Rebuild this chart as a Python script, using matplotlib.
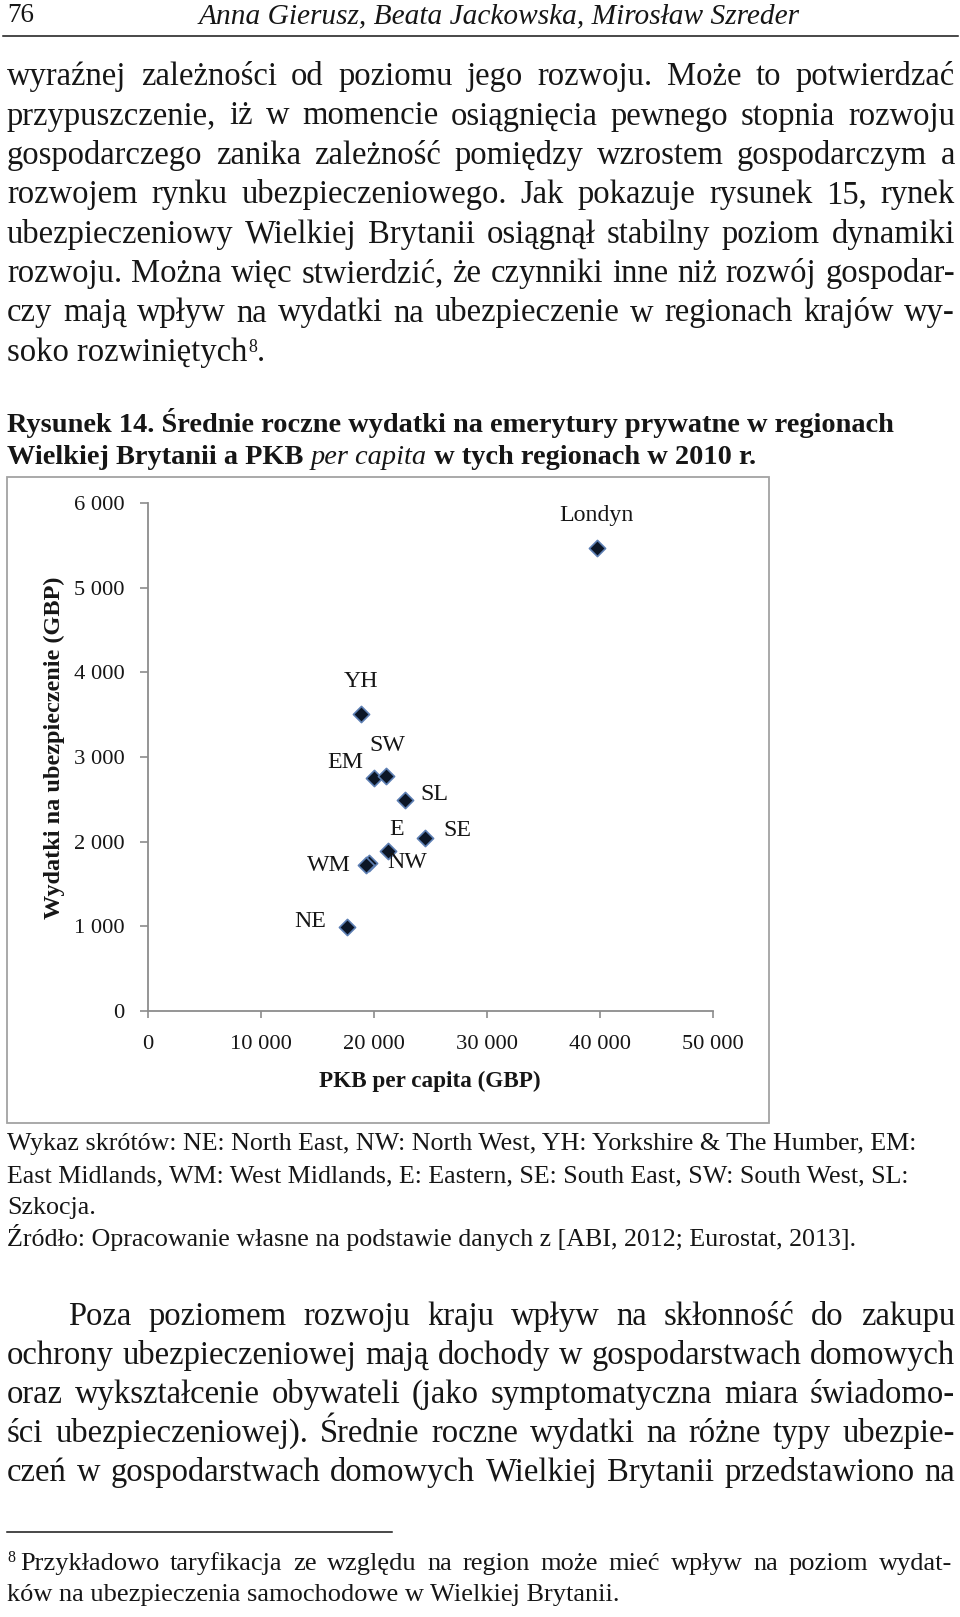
import matplotlib
matplotlib.use('Agg')
import matplotlib.pyplot as plt
from matplotlib.patches import Rectangle
from matplotlib.ticker import FuncFormatter

plt.rcParams['font.family'] = ['Liberation Serif', 'DejaVu Serif']

# data
regions = ['Londyn', 'YH', 'EM', 'SW', 'SL', 'SE', 'E', 'NW', 'WM', 'NE']
gdp = [39700, 18870, 19970, 21030, 22710, 24470, 21210, 19580, 19270, 17590]
spend = [5470, 3512, 2756, 2778, 2490, 2040, 1893, 1751, 1719, 990]
# label offsets in pixels (dx, dy up)
label_off = [(0, 32), (0, 32), (-28, 15), (2, 30), (30, 6), (33, 8), (9, 21), (38, 0), (-37, 0), (-37, 6)]

x_ticks = [0, 10000, 20000, 30000, 40000, 50000]
y_ticks = [0, 1000, 2000, 3000, 4000, 5000, 6000]

para1 = [
    "wyraźnej zależności od poziomu jego rozwoju. Może to potwierdzać",
    "przypuszczenie, iż w momencie osiągnięcia pewnego stopnia rozwoju",
    "gospodarczego zanika zależność pomiędzy wzrostem gospodarczym a",
    "rozwojem rynku ubezpieczeniowego. Jak pokazuje rysunek 15, rynek",
    "ubezpieczeniowy Wielkiej Brytanii osiągnął stabilny poziom dynamiki",
    "rozwoju. Można więc stwierdzić, że czynniki inne niż rozwój gospodar-",
    "czy mają wpływ na wydatki na ubezpieczenie w regionach krajów wy-",
]
para1_last = "soko rozwiniętych"
para1_y = [85, 124.5, 164, 203, 242.5, 282, 321.5, 361]

caption1 = "Rysunek 14. Średnie roczne wydatki na emerytury prywatne w regionach"
caption2 = ["Wielkiej Brytanii a PKB ", "per capita", " w tych regionach w 2010 r."]

notes = [
    "Wykaz skrótów: NE: North East, NW: North West, YH: Yorkshire & The Humber, EM:",
    "East Midlands, WM: West Midlands, E: Eastern, SE: South East, SW: South West, SL:",
    "Szkocja.",
    "Źródło: Opracowanie własne na podstawie danych z [ABI, 2012; Eurostat, 2013].",
]
notes_y = [1150, 1182, 1214, 1246]

para2 = [
    "Poza poziomem rozwoju kraju wpływ na skłonność do zakupu",
    "ochrony ubezpieczeniowej mają dochody w gospodarstwach domowych",
    "oraz wykształcenie obywateli (jako symptomatyczna miara świadomo-",
    "ści ubezpieczeniowej). Średnie roczne wydatki na różne typy ubezpie-",
    "czeń w gospodarstwach domowych Wielkiej Brytanii przedstawiono na",
]
para2_y = [1325, 1364, 1403, 1442, 1481]

foot1 = "Przykładowo taryfikacja ze względu na region może mieć wpływ na poziom wydat-"
foot2 = "ków na ubezpieczenia samochodowe w Wielkiej Brytanii."

W, H = 960, 1617
INK = '#161616'

fig = plt.figure(figsize=(W / 100, H / 100), dpi=100)
page = fig.add_axes([0, 0, 1, 1])
page.set_xlim(0, W)
page.set_ylim(H, 0)
page.axis('off')
page.patch.set_alpha(0)
renderer = fig.canvas.get_renderer()


def width_of(s, size, **kw):
    t = page.text(0, 0, s, fontsize=size, **kw)
    w = t.get_window_extent(renderer=renderer).width
    t.remove()
    return w


def fit(s, target, **kw):
    return 10 * target / width_of(s, 10, **kw)


def put(x, y, s, size, **kw):
    t = page.text(x, y, s, fontsize=size, va='baseline', ha='left', color=INK, **kw)
    return x + t.get_window_extent(renderer=renderer).width


def justify(line, y, x0, x1, size, **kw):
    words = line.split(' ')
    ws = [width_of(w, size, **kw) for w in words]
    gap = (x1 - x0 - sum(ws)) / (len(words) - 1)
    x = x0
    for w, wd in zip(words, ws):
        page.text(x, y, w, fontsize=size, va='baseline', ha='left', color=INK, **kw)
        x += wd + gap


L, R = 7, 955

# header
put(7, 22, "76", 19.5)
hs = fit("Anna Gierusz, Beata Jackowska, Mirosław Szreder", 601, style='italic')
put(199, 23, "Anna Gierusz, Beata Jackowska, Mirosław Szreder", hs, style='italic')
page.plot([3, 958], [36, 36], color=INK, lw=1.1)

# body font size: tightest justified line gets normal spacing
body = min([fit(s, R - L) for s in para1] + [fit(para2[0], R - 68)] +
           [fit(s, R - L) for s in para2[1:]]) * 0.995

for s, y in zip(para1, para1_y):
    justify(s, y, L, R, body)
x = put(L, para1_y[-1], para1_last, body)
x = put(x + 1, para1_y[-1] - 9, "8", body * 0.55)
put(x, para1_y[-1], ".", body)

# caption
cap = fit(caption1, 890, weight='bold')
put(L, 432, caption1, cap, weight='bold')
x = put(L, 464, caption2[0], cap, weight='bold')
x = put(x, 464, caption2[1], cap, style='italic')
put(x, 464, caption2[2], cap, weight='bold')

# chart frame
page.add_patch(Rectangle((7, 477), 762, 646, fill=False, edgecolor='#a3a3a3', lw=1.3))

# chart axes, placed in pixel units of the page
x0p, x1p, y0p, y1p = 148, 713, 1011, 503
ax = fig.add_axes([x0p / W, 1 - y0p / H, (x1p - x0p) / W, (y0p - y1p) / H])
ax.patch.set_alpha(0)
ax.set_xlim(0, 50000)
ax.set_ylim(0, 6000)
ax.set_xticks(x_ticks)
ax.set_yticks(y_ticks)
fmt = FuncFormatter(lambda v, p: f"{int(v):,}".replace(',', ' '))
ax.xaxis.set_major_formatter(fmt)
ax.yaxis.set_major_formatter(fmt)
for side in ['top', 'right']:
    ax.spines[side].set_visible(False)
for side in ['left', 'bottom']:
    ax.spines[side].set_color('#8c8c8c')
    ax.spines[side].set_linewidth(1.3)
ax.tick_params(axis='y', direction='out', length=5.8, width=1.2, color='#8c8c8c',
               pad=11.0, labelsize=16.2, labelcolor=INK)
ax.tick_params(axis='x', direction='out', length=5.0, width=1.2, color='#8c8c8c',
               pad=12.0, labelsize=16.2, labelcolor=INK)
ax.scatter(gdp, spend, marker='D', s=68, color='#0c1626', edgecolor='#5d7fb3',
           linewidth=1.2, zorder=3, clip_on=False)
for name, gx, sy, (dx, dy) in zip(regions, gdp, spend, label_off):
    ax.annotate(name, (gx, sy), xytext=(dx * 0.72, dy * 0.72), textcoords='offset points',
                ha='center', va='center', fontsize=17.2, color=INK)
ax.text((430 - x0p) / (x1p - x0p), -(1081 - y0p) / (y0p - y1p), "PKB per capita (GBP)",
        transform=ax.transAxes, ha='center', va='center', fontsize=16.7,
        fontweight='bold', color=INK)
ax.text((54 - x0p) / (x1p - x0p), (y0p - 748) / (y0p - y1p), "Wydatki na ubezpieczenie (GBP)",
        transform=ax.transAxes, ha='center', va='center', rotation=90, fontsize=17.5,
        fontweight='bold', color=INK)

# notes under the chart
ns = fit(notes[3], 851)
for s, y in zip(notes, notes_y):
    put(L, y, s, ns)

# second paragraph
justify(para2[0], para2_y[0], 68, R, body)
for s, y in zip(para2[1:], para2_y[1:]):
    justify(s, y, L, R, body)

# footnote
page.plot([7, 392], [1532, 1532], color=INK, lw=1.1)
fs = fit(foot2, 612)
x = put(L, 1562, "8", fs * 0.6)
justify(foot1, 1570, x + 5, 952, fs)
put(L, 1601, foot2, fs)

fig.savefig('out.png', dpi=100)
